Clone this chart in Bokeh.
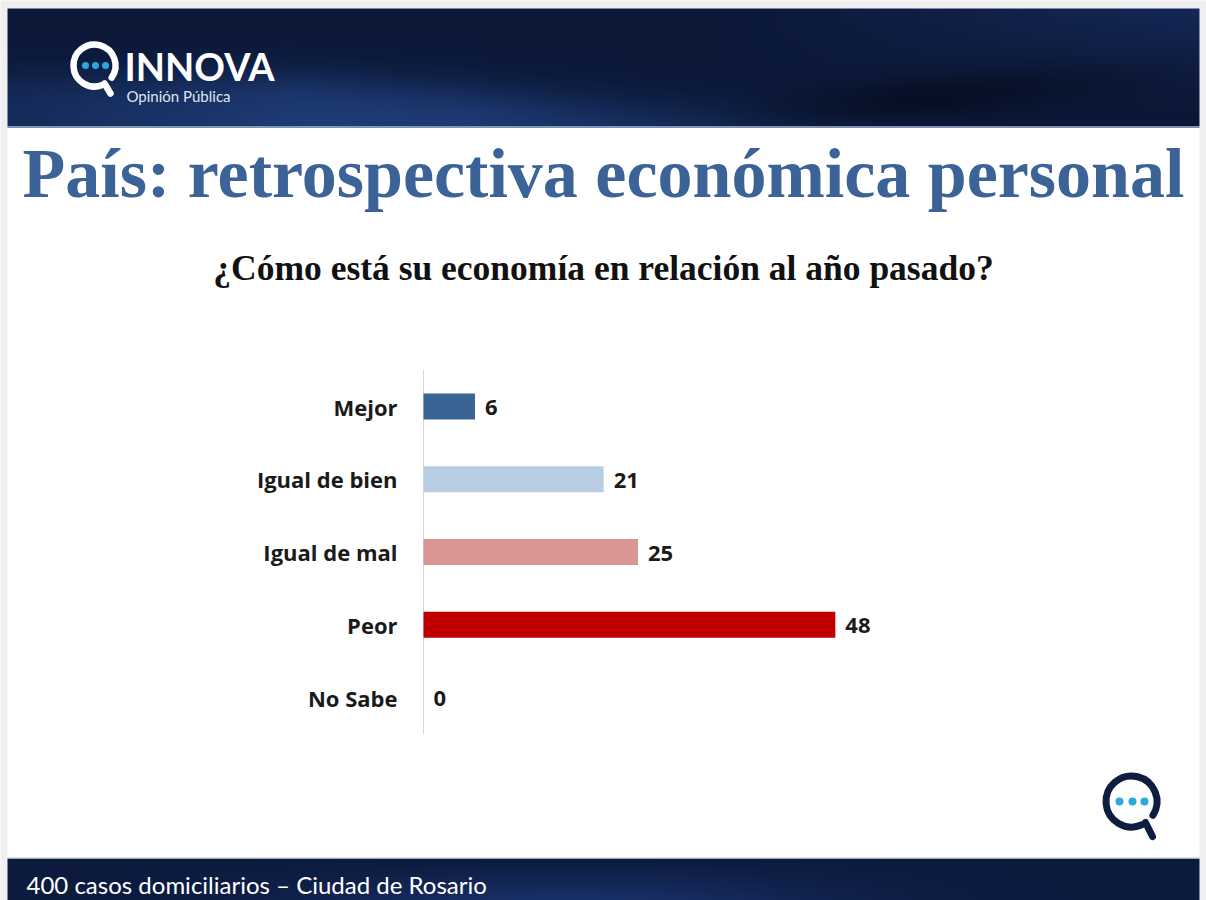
import numpy as np
from bokeh.plotting import figure
from bokeh.models import Range1d, ColumnDataSource
from bokeh.core.properties import value
from bokeh.embed import file_html
from bokeh.resources import INLINE

# ---------------- data ----------------
categories = ["Mejor", "Igual de bien", "Igual de mal", "Peor", "No Sabe"]
values = [6, 21, 25, 48, 0]
bar_colors = ["#3b6496", "#b8cce4", "#d99694", "#c00000", "#7f7f7f"]
title_text = "País: retrospectiva económica personal"
subtitle_text = "¿Cómo está su economía en relación al año pasado?"
footer_text = "400 casos domiciliarios – Ciudad de Rosario"
brand_name = "INNOVA"
brand_tag = "Opinión Pública"

# ---------------- layout (pixels) ----------------
W, H = 1206, 900
SL, SR, ST = 7, 1199, 8          # slide edges
HEADER_B = 126
FOOTER_T = 858
ZERO_PX = 423.0        # x pixel of value 0
PX_PER_UNIT = 8.58     # pixels per percentage point
SLOT0_PX = 406.0       # y pixel of the first category
SLOT_PX = 72.75        # pixels per category
CX = (SL + SR) / 2

p = figure(width=W, height=H, output_backend="svg", toolbar_location=None,
           x_range=Range1d(0, W), y_range=Range1d(H, 0),
           x_axis_type=None, y_axis_type=None, min_border=0,
           outline_line_color=None)
p.background_fill_color = "#efefef"
p.border_fill_color = "#efefef"

p.extra_x_ranges = {"val": Range1d(-ZERO_PX / PX_PER_UNIT, (W - ZERO_PX) / PX_PER_UNIT)}
p.extra_y_ranges = {"slot": Range1d((H - SLOT0_PX) / SLOT_PX, -SLOT0_PX / SLOT_PX)}


def rgba_image(rgb):
    h, w, _ = rgb.shape
    img = np.empty((h, w), dtype=np.uint32)
    view = img.view(dtype=np.uint8).reshape((h, w, 4))
    view[:, :, :3] = np.clip(rgb, 0, 255).astype(np.uint8)
    view[:, :, 3] = 255
    return img


def sig(t):
    return 1.0 / (1.0 + np.exp(-t))


# slide background
p.quad(left=[SL], right=[SR], top=[ST], bottom=[H], fill_color="white", line_color=None)

# ---------------- header band ----------------
HW, HH = SR - SL, HEADER_B - ST
hx = np.arange(HW, dtype=float)[None, :]
hy = np.arange(HH, dtype=float)[:, None]
base = np.array([11.0, 24.0, 56.0])
curve = 68 + np.maximum(hx - 280, 0) * 0.08
sweep = sig((hy - curve) / 11) * np.clip((980 - hx) / 520, 0, 1) * (0.55 + 0.45 * np.clip(hx / 300, 0, 1))
top_right = np.clip((hx - 700) / 500, 0, 1) * np.clip(1 - hy / 100, 0, 1)
band_c = 100 - (hx - 800) * 0.1
dark = (np.exp(-((hy - band_c) / 22) ** 2) * np.clip((hx - 700) / 200, 0, 1)
        * np.clip((1250 - hx) / 300, 0, 1))
rgb = (base[None, None, :]
       + sweep[..., None] * np.array([20.0, 36.0, 62.0])
       + top_right[..., None] * np.array([10.0, 16.0, 30.0])
       - dark[..., None] * np.array([5.0, 10.0, 22.0]))
p.image_rgba(image=[rgba_image(rgb)], x=SL, y=ST, dw=HW, dh=HH)
p.quad(left=[SL], right=[SR], top=[HEADER_B], bottom=[HEADER_B + 1.5],
       fill_color="#7b91b6", line_color=None)

# ---------------- footer band ----------------
FH = H - FOOTER_T
fx = np.arange(HW, dtype=float)[None, :]
fy = np.arange(FH, dtype=float)[:, None]
fbase = np.array([12.0, 26.0, 62.0])
flight = np.exp(-((fx - 560) / 260) ** 2) * np.clip(fy / FH, 0, 1)
frgb = fbase[None, None, :] + flight[..., None] * np.array([14.0, 24.0, 44.0])
p.image_rgba(image=[rgba_image(frgb)], x=SL, y=FOOTER_T, dw=HW, dh=FH)
p.quad(left=[SL], right=[SR], top=[FOOTER_T - 1], bottom=[FOOTER_T],
       fill_color="#c3c8d2", line_color=None)

# ---------------- top-left logo ----------------
p.arc(x=[94], y=[65], radius=21, start_angle=np.deg2rad(-35), end_angle=np.deg2rad(-68),
      direction="anticlock", line_width=6.5, line_color="white", line_cap="round")
p.segment(x0=[104], y0=[83], x1=[110], y1=[93], line_width=6.5, line_color="white",
          line_cap="round")
p.scatter(x=[85, 95, 105], y=[65, 65, 65], size=7, fill_color="#2aa9df", line_color=None)
p.text(x=[124], y=[65.5], text=[brand_name], text_font=value("Lato"), text_font_style="bold",
       text_font_size="38px", text_color="white", text_baseline="alphabetic")
p.text(x=[126], y=[95], text=[brand_tag], text_font=value("Lato"),
       text_font_size="15px", text_color="#dfe6f0", text_baseline="alphabetic")

# ---------------- titles ----------------
p.text(x=[CX], y=[173], text=[title_text], text_font=value("Liberation Serif"),
       text_font_style="bold", text_font_size="70px", text_color="#3b6397",
       text_align="center", text_baseline="alphabetic")
p.text(x=[CX], y=[267], text=[subtitle_text], text_font=value("Liberation Serif"),
       text_font_style="bold", text_font_size="35.5px", text_color="#111111",
       text_align="center", text_baseline="alphabetic")

# ---------------- bar chart ----------------
src = ColumnDataSource(dict(
    cat=categories,
    idx=list(range(len(categories))),
    val=values,
    color=bar_colors,
    label=[str(v) for v in values],
))
p.segment(x0=[0], y0=[-0.5], x1=[0], y1=[len(categories) - 0.5],
          line_color="#d9d9d9", line_width=1,
          x_range_name="val", y_range_name="slot")
p.hbar(y="idx", left=0, right="val", height=0.36, fill_color="color", line_color=None,
       source=src, x_range_name="val", y_range_name="slot")
p.text(x="val", y="idx", text="label", x_offset=10, y_offset=1, text_baseline="middle",
       text_font=value("Open Sans"), text_font_style="bold", text_font_size="22px",
       text_color="#1a1a1a", source=src, x_range_name="val", y_range_name="slot")
p.text(x=0, y="idx", text="cat", x_offset=-26, text_align="right", text_baseline="middle",
       text_font=value("Open Sans"), text_font_style="bold", text_font_size="22px",
       text_color="#1a1a1a", source=src, x_range_name="val", y_range_name="slot")

# ---------------- footer text ----------------
p.text(x=[26], y=[884], text=[footer_text], text_font=value("Lato"),
       text_font_size="24px", text_color="white", text_baseline="alphabetic")

# ---------------- bottom-right logo ----------------
p.arc(x=[1131], y=[801], radius=25.5, start_angle=np.deg2rad(-33), end_angle=np.deg2rad(-66),
      direction="anticlock", line_width=7, line_color="#0f1d40", line_cap="round")
p.segment(x0=[1145], y0=[822], x1=[1152], y1=[836], line_width=7, line_color="#0f1d40",
          line_cap="round")
p.scatter(x=[1119, 1132, 1144], y=[801, 801, 801], size=8, fill_color="#2aa9df", line_color=None)

open("out.html", "w").write(file_html(p, INLINE))
